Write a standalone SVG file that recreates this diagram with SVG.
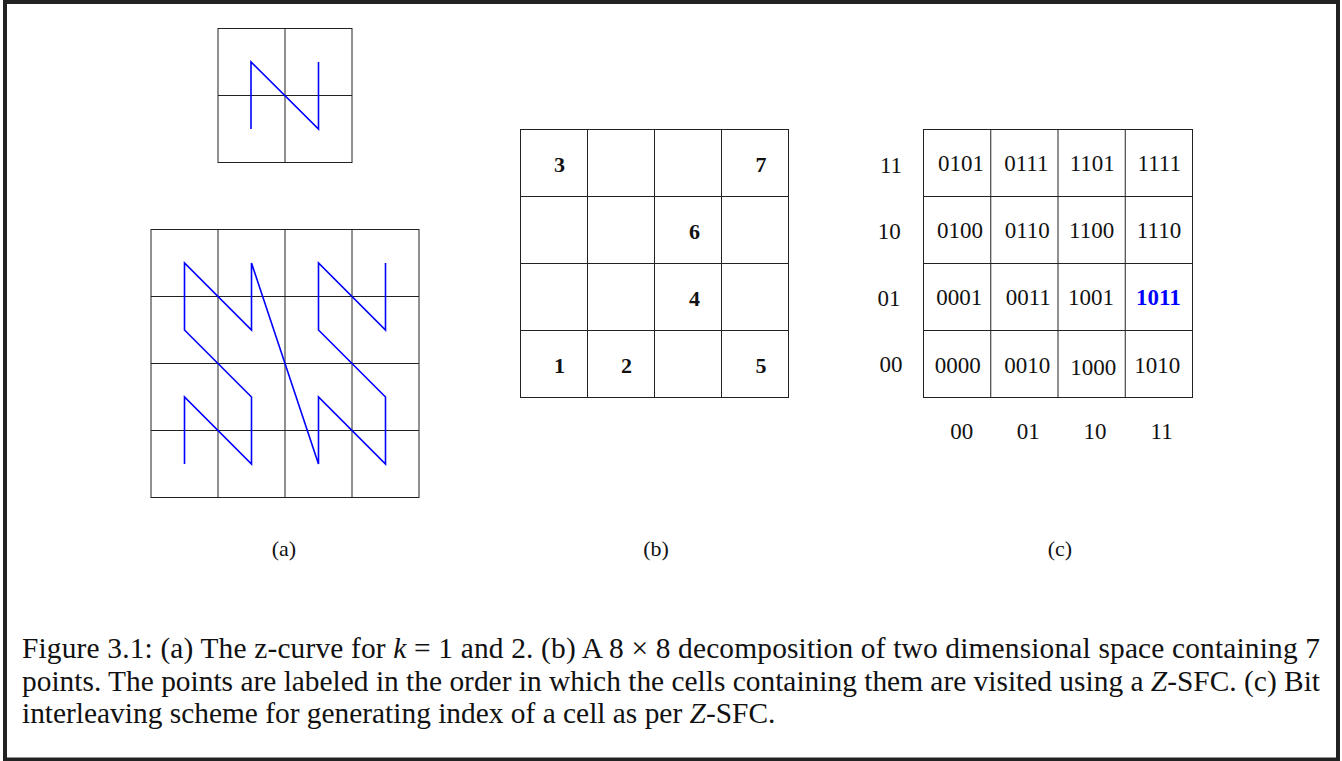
<svg xmlns="http://www.w3.org/2000/svg" width="1342" height="761" viewBox="0 0 1342 761">
<style>
.grid{fill:none;stroke:#222;stroke-width:1}
.curve{fill:none;stroke:#0000ff;stroke-width:1.6;stroke-linejoin:miter}
.t{font-family:"Liberation Serif","Times New Roman",serif;fill:#111}
.num{font-size:22px;font-weight:bold;text-anchor:middle}
.code{font-size:23px;text-anchor:middle}
.lab{font-size:22px;text-anchor:middle}
.cap{font-size:29.4px}
</style>
<rect x="0" y="0" width="1342" height="761" fill="#fff"/>
<rect x="5" y="2" width="1333" height="757.5" fill="none" stroke="#222" stroke-width="4"/>

<g id="grid-a1">
<rect class="grid" x="218" y="28.5" width="134" height="134"/>
<line class="grid" x1="285" y1="28.5" x2="285" y2="162.5"/>
<line class="grid" x1="218" y1="95.5" x2="352" y2="95.5"/>
<polyline class="curve" points="251,129 251,62 318.5,129 318.5,62"/>
</g>

<g id="grid-a2">
<rect class="grid" x="151" y="229.5" width="268" height="268"/>
<line class="grid" x1="218" y1="229.5" x2="218" y2="497.5"/>
<line class="grid" x1="285" y1="229.5" x2="285" y2="497.5"/>
<line class="grid" x1="352" y1="229.5" x2="352" y2="497.5"/>
<line class="grid" x1="151" y1="296.5" x2="419" y2="296.5"/>
<line class="grid" x1="151" y1="363.5" x2="419" y2="363.5"/>
<line class="grid" x1="151" y1="430.5" x2="419" y2="430.5"/>
<polyline class="curve" points="184.5,464 184.5,397 251.5,464 251.5,397 184.5,330 184.5,263 251.5,330 251.5,263 318.5,464 318.5,397 385.5,464 385.5,397 318.5,330 318.5,263 385.5,330 385.5,263"/>
</g>

<g id="grid-b">
<rect class="grid" x="520.5" y="129.5" width="268" height="268"/>
<line class="grid" x1="587.5" y1="129.5" x2="587.5" y2="397.5"/>
<line class="grid" x1="654.5" y1="129.5" x2="654.5" y2="397.5"/>
<line class="grid" x1="721.5" y1="129.5" x2="721.5" y2="397.5"/>
<line class="grid" x1="520.5" y1="196.5" x2="788.5" y2="196.5"/>
<line class="grid" x1="520.5" y1="263.5" x2="788.5" y2="263.5"/>
<line class="grid" x1="520.5" y1="330.5" x2="788.5" y2="330.5"/>
<text class="t num" x="559.5" y="172">3</text>
<text class="t num" x="761" y="172">7</text>
<text class="t num" x="694.5" y="239">6</text>
<text class="t num" x="694.5" y="306.3">4</text>
<text class="t num" x="559.5" y="373">1</text>
<text class="t num" x="626.5" y="373">2</text>
<text class="t num" x="761" y="373">5</text>
</g>

<g id="grid-c">
<rect class="grid" x="923.5" y="129.5" width="269" height="268"/>
<line class="grid" x1="990.75" y1="129.5" x2="990.75" y2="397.5"/>
<line class="grid" x1="1058" y1="129.5" x2="1058" y2="397.5"/>
<line class="grid" x1="1125.25" y1="129.5" x2="1125.25" y2="397.5"/>
<line class="grid" x1="923.5" y1="196.5" x2="1192.5" y2="196.5"/>
<line class="grid" x1="923.5" y1="263.5" x2="1192.5" y2="263.5"/>
<line class="grid" x1="923.5" y1="330.5" x2="1192.5" y2="330.5"/>
<text class="t code" x="961" y="170.7">0101</text>
<text class="t code" x="1026.3" y="170.7">0111</text>
<text class="t code" x="1092.3" y="170.7">1101</text>
<text class="t code" x="1159.3" y="170.7">1111</text>
<text class="t code" x="960" y="238.3">0100</text>
<text class="t code" x="1027.3" y="238.3">0110</text>
<text class="t code" x="1091.7" y="238.3">1100</text>
<text class="t code" x="1159" y="238.3">1110</text>
<text class="t code" x="959.3" y="305">0001</text>
<text class="t code" x="1028.3" y="305">0011</text>
<text class="t code" x="1091" y="305">1001</text>
<text class="t code" x="1158.3" y="305" font-weight="bold" style="fill:#0000ff">1011</text>
<text class="t code" x="957.7" y="372.7">0000</text>
<text class="t code" x="1027.3" y="372.7">0010</text>
<text class="t code" x="1093.3" y="375">1000</text>
<text class="t code" x="1157.3" y="372.7">1010</text>
<text class="t code" x="891" y="172.7">11</text>
<text class="t code" x="889.3" y="239.3">10</text>
<text class="t code" x="889" y="306">01</text>
<text class="t code" x="891" y="372.3">00</text>
<text class="t code" x="961.7" y="439.3">00</text>
<text class="t code" x="1028.3" y="439.3">01</text>
<text class="t code" x="1095" y="439.3">10</text>
<text class="t code" x="1161.7" y="439.3">11</text>
</g>

<g id="labels">
<text class="t lab" x="284" y="556">(a)</text>
<text class="t lab" x="656" y="556">(b)</text>
<text class="t lab" x="1060" y="556">(c)</text>
</g>

<g id="caption">
<text class="t cap" x="22" y="658" textLength="1298" lengthAdjust="spacing">Figure 3.1: (a) The z-curve for <tspan font-style="italic">k</tspan> = 1 and 2. (b) A 8 × 8 decomposition of two dimensional space containing 7</text>
<text class="t cap" x="22" y="690.5" textLength="1298" lengthAdjust="spacing">points. The points are labeled in the order in which the cells containing them are visited using a <tspan font-style="italic">Z</tspan>-SFC. (c) Bit</text>
<text class="t cap" x="22" y="723">interleaving scheme for generating index of a cell as per <tspan font-style="italic">Z</tspan>-SFC.</text>
</g>
</svg>
